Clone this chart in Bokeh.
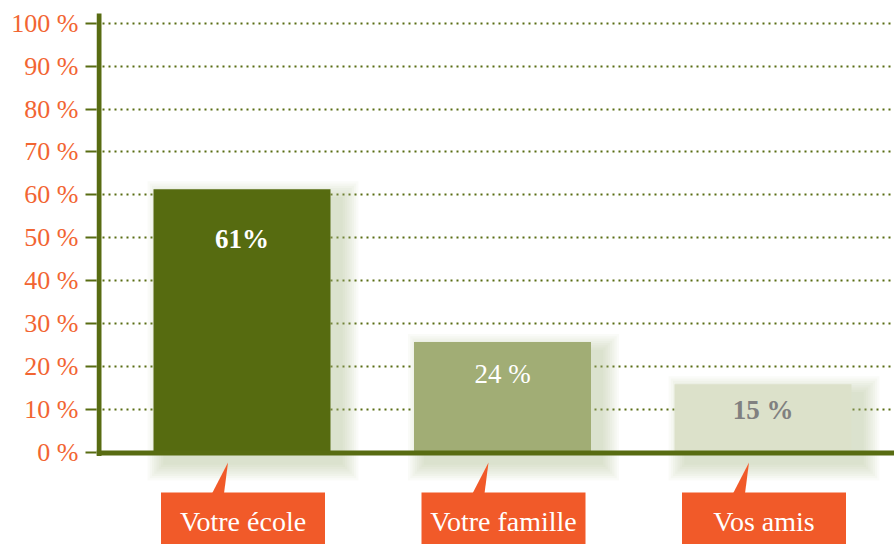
from bokeh.plotting import figure
from bokeh.models import ColumnDataSource, FixedTicker, PrintfTickFormatter, Range1d
from bokeh.embed import file_html
from bokeh.resources import INLINE
from bokeh.core.properties import value

# ---- data ----
categories = ["Votre école", "Votre famille", "Vos amis"]
bar_values = [61.3, 25.7, 15.9]
value_labels = ["61%", "24 %", "15 %"]
y_ticks = [0, 10, 20, 30, 40, 50, 60, 70, 80, 90, 100]

# ---- style ----
W, H = 894, 544
FRAME_LEFT = 96
SX = 260.5          # px per category unit
SY = 4.292          # px per percent
ZERO_PX = 451.9     # screen y of 0 %
GREEN = "#586C12"
ORANGE = "#F15A29"
TICK_ORANGE = "#F26532"
BAR_COLORS = ["#566B10", "#A1AD75", "#DCE1CA"]
LABEL_COLORS = ["#FFFFFF", "#FFFFFF", "#808080"]
LABEL_STYLES = ["bold", "normal", "bold"]
LABEL_BASE_OFFSETS = [50, 32, 26]   # px below bar top
SERIF = "Liberation Serif"


def dx(px):
    return px / SX


def dy(px):
    return px / SY


x_start = 1 - (241.5 - FRAME_LEFT) / SX
x_end = x_start + (W - FRAME_LEFT) / SX
y_end = ZERO_PX / SY
y_start = -(H - ZERO_PX) / SY

xs = [i + 1 for i in range(len(categories))]
bar_w = dx(177)

p = figure(width=W, height=H, x_range=Range1d(x_start, x_end),
           y_range=Range1d(y_start, y_end), output_backend="svg",
           toolbar_location=None, x_axis_location=None,
           min_border_left=FRAME_LEFT, min_border_right=0,
           min_border_top=0, min_border_bottom=0)
p.outline_line_color = None
p.background_fill_color = "white"
p.border_fill_color = "white"
p.xgrid.visible = False

# y axis (ticks + labels from Bokeh)
ax = p.yaxis[0]
ax.ticker = FixedTicker(ticks=y_ticks)
ax.formatter = PrintfTickFormatter(format="%d %%")
ax.axis_line_color = None
ax.major_tick_out = 11
ax.major_tick_in = 0
ax.major_tick_line_color = GREEN
ax.major_tick_line_width = 2
ax.minor_tick_line_color = None
ax.major_label_text_font = SERIF
ax.major_label_text_font_size = "26px"
ax.major_label_text_color = TICK_ORANGE
ax.major_label_standoff = 7

p.ygrid.ticker = FixedTicker(ticks=y_ticks[1:])
p.ygrid.grid_line_color = GREEN
p.ygrid.grid_line_width = 2
p.ygrid.grid_line_dash = "2 4"

# soft shadows behind bars (offset to the right and downwards)
N = 8
for i in range(N):
    e = 18 * (1 - i / N)
    src = ColumnDataSource(dict(
        left=[x - bar_w / 2 + dx(12) - dx(e) for x in xs],
        right=[x + bar_w / 2 + dx(10) + dx(e) for x in xs],
        top=[v - dy(10) + dy(e) for v in bar_values],
        bottom=[-dy(10) - dy(e) for _ in xs],
    ))
    p.quad(left="left", right="right", top="top", bottom="bottom", source=src,
           fill_color="#A9B38C", fill_alpha=0.06, line_color=None)

# bars
bars = ColumnDataSource(dict(x=xs, top=bar_values, color=BAR_COLORS))
p.vbar(x="x", top="top", bottom=0, width=bar_w, fill_color="color",
       line_color=None, source=bars)

# axis lines
y_axis_x = x_start + dx(2.5)
p.segment(x0=[y_axis_x], y0=[-dy(3.5)], x1=[y_axis_x], y1=[dy(ZERO_PX - 13)],
          line_color=GREEN, line_width=5)
p.segment(x0=[x_start], y0=[-dy(0.6)], x1=[x_end], y1=[-dy(0.6)],
          line_color=GREEN, line_width=5)

# value labels
for x, v, t, c, s, o in zip(xs, bar_values, value_labels, LABEL_COLORS,
                            LABEL_STYLES, LABEL_BASE_OFFSETS):
    p.text(x=[x], y=[v], text=[t], y_offset=o, text_align="center",
           text_baseline="alphabetic", text_font=value(SERIF),
           text_font_size="27px", text_font_style=s, text_color=c)

# callouts
box_top = -dy(492 - ZERO_PX)
tip_y = -dy(462 - ZERO_PX)
p.quad(left=[x + dx(1) - dx(82) for x in xs], right=[x + dx(1) + dx(82) for x in xs],
       top=box_top, bottom=y_start - 2, fill_color=ORANGE, line_color=None)
p.patches(xs=[[x - dx(30), x - dx(18), x - dx(14)] for x in xs],
          ys=[[box_top - dy(1), box_top - dy(1), tip_y] for _ in xs],
          fill_color=ORANGE, line_color=None)
p.text(x=[x + dx(1) for x in xs], y=-dy(521 - ZERO_PX), text=categories,
       text_align="center", text_baseline="alphabetic",
       text_font=value(SERIF), text_font_size="28px", text_color="white")

open("out.html", "w").write(file_html(p, INLINE))
